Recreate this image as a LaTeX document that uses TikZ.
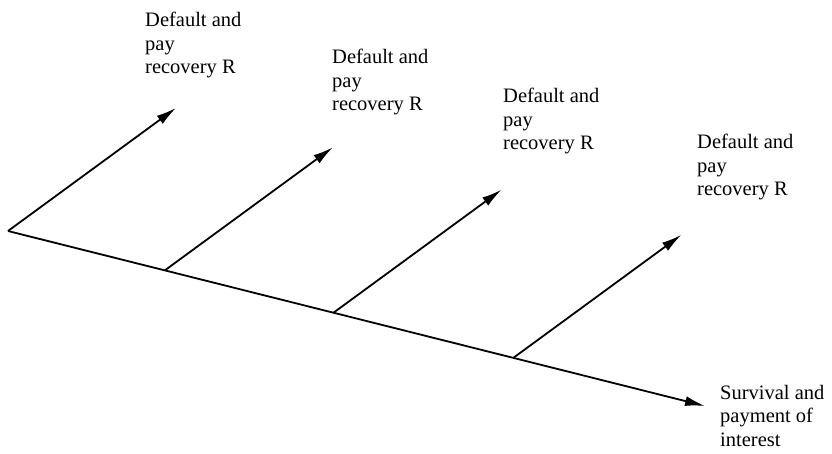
\documentclass[tikz,border=0pt]{standalone}
\usepackage{fontspec}
\setmainfont{Liberation Serif}
\usetikzlibrary{arrows.meta,calc}
\tikzset{
  >={Latex[length=20pt,width=10pt]},
  dline/.style={black, line width=1.8pt},
  dlbl/.style={anchor=north west, inner sep=0pt, align=left,
               font=\fontsize{20.5}{23.5}\selectfont},
}

\begin{document}
\begin{tikzpicture}[x=1pt,y=1pt]
  \useasboundingbox (0,0) rectangle (832,-454);

  % ---- tronco: sobrevivencia ----
  \coordinate (o) at (8,-231);
  \coordinate (s) at (705,-406);
  \draw[dline,->] (o) -- (s);

  % ---- ramos: default ----
  \coordinate (b1) at (o);
  \coordinate (b2) at ($(o)!0.225!(s)$);
  \coordinate (b3) at ($(o)!0.467!(s)$);
  \coordinate (b4) at ($(o)!0.725!(s)$);
  \foreach \i in {1,...,4} {
    \coordinate (t\i) at ($(b\i)+(168,123)$);
    \draw[dline,->] (b\i) -- (t\i);
  }

  % ---- textos ----
  \node[dlbl] (d1) at (145,-12) {Default and\\pay\\recovery R};
  \node[dlbl] (d2) at (332,-49) {Default and\\pay\\recovery R};
  \node[dlbl] (d3) at (503,-88) {Default and\\pay\\recovery R};
  \node[dlbl] (d4) at (697,-134) {Default and\\pay\\recovery R};
  \node[dlbl] (surv) at (720,-385) {Survival and\\payment of\\interest};

\end{tikzpicture}
\end{document}
